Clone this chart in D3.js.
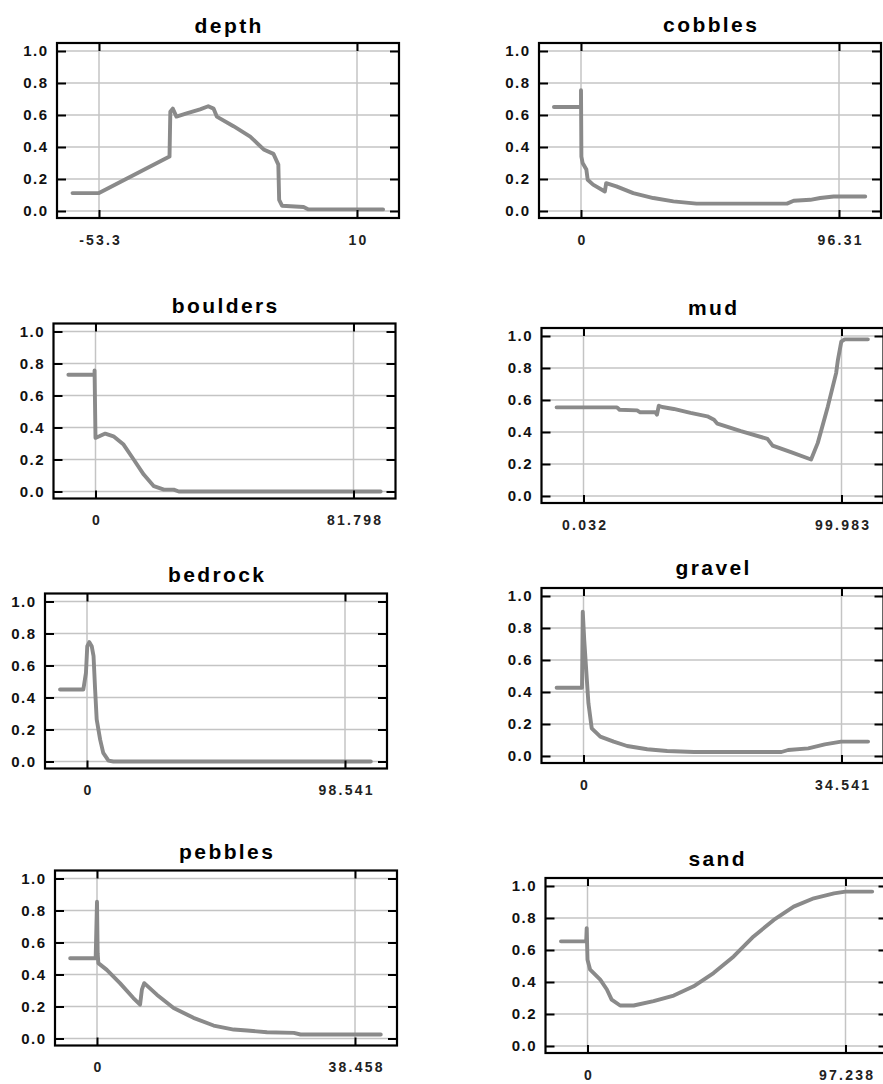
<!DOCTYPE html>
<html>
<head>
<meta charset="utf-8">
<script src="https://cdn.jsdelivr.net/npm/d3@7"></script>
<style>
  html, body { margin: 0; padding: 0; background: #fff; }
  svg { display: block; }
</style>
</head>
<body>
<svg id="chart" width="883" height="1084"></svg>
<script>
// ---------------- data ----------------
const titles = ["depth", "cobbles", "boulders", "mud", "bedrock", "gravel", "pebbles", "sand"];

const xTickValues = [
  [-53.3, 10], [0, 96.31], [0, 81.798], [0.032, 99.983],
  [0, 98.541], [0, 34.541], [0, 38.458], [0, 97.238]
];
const xTickLabels = [
  ["-53.3", "10"], ["0", "96.31"], ["0", "81.798"], ["0.032", "99.983"],
  ["0", "98.541"], ["0", "34.541"], ["0", "38.458"], ["0", "97.238"]
];
const yTickValues = [0, 0.2, 0.4, 0.6, 0.8, 1.0];
const yTickLabels = ["0.0", "0.2", "0.4", "0.6", "0.8", "1.0"];

const depth = [[-59.8,0.112],[-53.3,0.112],[-36.0,0.34],[-35.8,0.62],[-35.2,0.64],[-34.3,0.59],[-31.8,0.61],
  [-28.5,0.635],[-26.5,0.655],[-25.2,0.64],[-24.4,0.59],[-20.3,0.53],[-16.2,0.465],[-12.9,0.385],[-10.5,0.357],
  [-9.3,0.29],[-9.1,0.07],[-8.4,0.033],[-3.1,0.025],[-1.9,0.01],[16.4,0.01]];
const cobbles = [[-10.1,0.65],[0,0.65],[0,0.755],[0.15,0.34],[0.6,0.30],[2.0,0.26],[2.5,0.195],[4.5,0.165],
  [8.9,0.122],[9.4,0.174],[13.2,0.154],[19.5,0.112],[27.0,0.081],[34.5,0.06],[43.1,0.046],[76.9,0.046],
  [79.4,0.064],[85.6,0.07],[89.3,0.081],[94.3,0.091],[106.1,0.091]];
const boulders = [[-8.6,0.73],[-0.3,0.73],[-0.3,0.757],[0,0.335],[1.2,0.345],[3.1,0.362],[5.7,0.345],[8.9,0.293],
  [12.1,0.2],[15.3,0.106],[18.5,0.033],[21.7,0.012],[24.8,0.012],[26.4,0],[90.4,0]];
const mud = [[-10.4,0.554],[13.0,0.554],[14.0,0.539],[20.8,0.535],[22.0,0.523],[27.9,0.523],[28.5,0.508],
  [29.2,0.564],[30.5,0.556],[35.0,0.544],[41.5,0.519],[48.0,0.498],[50.6,0.477],[51.9,0.452],[61.0,0.405],
  [71.3,0.357],[73.3,0.315],[80.4,0.274],[88.2,0.228],[90.8,0.332],[94.7,0.56],[97.9,0.768],[98.6,0.851],
  [99.9,0.965],[101.2,0.979],[110.2,0.979]];
const bedrock = [[-10.3,0.45],[-1.4,0.45],[-0.4,0.554],[0.1,0.721],[0.9,0.746],[1.8,0.721],[2.5,0.658],
  [3.1,0.45],[3.7,0.263],[5.0,0.138],[6.2,0.054],[8.2,0.006],[10.1,0],[108.4,0]];
const gravel = [[-3.6,0.427],[-0.2,0.427],[-0.1,0.902],[0.1,0.725],[0.45,0.475],[0.66,0.329],[1.1,0.173],
  [2.25,0.121],[4.04,0.09],[5.84,0.0625],[8.53,0.042],[11.2,0.031],[14.8,0.025],[26.5,0.025],[27.4,0.0375],
  [30.1,0.048],[32.3,0.073],[34.5,0.09],[38.1,0.09]];
const pebbles = [[-4.0,0.502],[-0.2,0.502],[0,0.855],[0.1,0.533],[0.2,0.471],[1.46,0.429],[3.42,0.346],
  [5.42,0.253],[6.42,0.212],[6.69,0.305],[7.04,0.346],[8.92,0.274],[11.42,0.191],[14.38,0.129],[17.38,0.081],
  [20.38,0.056],[22.38,0.05],[25.34,0.039],[29.34,0.035],[30.34,0.025],[42.3,0.025]];
const sand = [[-10.0,0.654],[-0.5,0.654],[-0.3,0.737],[0,0.539],[1.0,0.477],[4.8,0.415],[7.3,0.353],
  [9.1,0.29],[12.3,0.253],[17.4,0.253],[24.9,0.28],[32.5,0.315],[40.0,0.373],[47.5,0.456],[55.1,0.56],
  [62.6,0.685],[70.2,0.788],[77.7,0.871],[85.3,0.923],[92.9,0.954],[97.2,0.965],[107.3,0.965]];

const seriesList = [depth, cobbles, boulders, mud, bedrock, gravel, pebbles, sand];

// ---------------- layout ----------------
const frames = [
  {x: 57,  y: 43,  ty: 10},
  {x: 539, y: 43,  ty: 11},
  {x: 53.5, y: 323.5, ty: 11},
  {x: 541.5, y: 328, ty: 13},
  {x: 45,  y: 593.5, ty: 12},
  {x: 541.5, y: 588, ty: 13},
  {x: 55,  y: 870.5, ty: 12},
  {x: 545.5, y: 878, ty: 12}
];
const W = 342, H = 175;
const FONT = "'Liberation Sans', Arial, Helvetica, sans-serif";

const svg = d3.select("#chart");

seriesList.forEach((data, i) => {
  const f = frames[i];
  const g = svg.append("g").attr("transform", `translate(${f.x},${f.y})`);

  const x = d3.scaleLinear().domain(xTickValues[i]).range([42, W - 42]);
  const y = d3.scaleLinear().domain([0, 1]).range([H - 7, 8]);

  // grid
  g.append("g").selectAll("line").data(yTickValues).join("line")
    .attr("x1", 0).attr("x2", W)
    .attr("y1", d => y(d)).attr("y2", d => y(d))
    .attr("stroke", "#c4c4c4").attr("stroke-width", 1.5);
  g.append("g").selectAll("line").data(xTickValues[i]).join("line")
    .attr("y1", 0).attr("y2", H)
    .attr("x1", d => x(d)).attr("x2", d => x(d))
    .attr("stroke", "#c4c4c4").attr("stroke-width", 1.5);

  // curve
  const line = d3.line().x(d => x(d[0])).y(d => y(d[1]));
  g.append("path").datum(data)
    .attr("d", line)
    .attr("fill", "none")
    .attr("stroke", "#8a8a8a")
    .attr("stroke-width", 3.9)
    .attr("stroke-linejoin", "round")
    .attr("stroke-linecap", "round");

  // axes
  const yl = g.append("g").call(
    d3.axisLeft(y).tickValues(yTickValues).tickSize(-9).tickPadding(10)
      .tickFormat((d, k) => yTickLabels[k]));
  const yr = g.append("g").attr("transform", `translate(${W},0)`).call(
    d3.axisRight(y).tickValues(yTickValues).tickSize(-9).tickFormat(""));
  const xb = g.append("g").attr("transform", `translate(0,${H})`).call(
    d3.axisBottom(x).tickValues(xTickValues[i]).tickSize(-8).tickPadding(17)
      .tickFormat((d, k) => xTickLabels[i][k]));
  const xt = g.append("g").call(
    d3.axisTop(x).tickValues(xTickValues[i]).tickSize(-8).tickFormat(""));

  [yl, yr, xb, xt].forEach(a => {
    a.select(".domain").remove();
    a.selectAll(".tick line").attr("stroke", "#000").attr("stroke-width", 2);
  });
  yl.selectAll("text")
    .attr("font-family", FONT)
    .attr("font-size", 15).attr("font-weight", "bold")
    .attr("letter-spacing", "1.5px").attr("dx", "1.5px")
    .attr("fill", "#111");
  xb.selectAll("text")
    .attr("font-family", FONT)
    .attr("font-size", 14).attr("font-weight", "bold")
    .attr("letter-spacing", "2.2px").attr("dx", "1.1px")
    .attr("fill", "#222");

  // frame
  g.append("rect").attr("x", 0).attr("y", 0).attr("width", W).attr("height", H)
    .attr("fill", "none").attr("stroke", "#000").attr("stroke-width", 2.2);

  // title
  g.append("text")
    .attr("x", W / 2 + 1.2).attr("y", -f.ty)
    .attr("text-anchor", "middle")
    .attr("font-family", FONT)
    .attr("font-size", 21).attr("font-weight", "bold")
    .attr("letter-spacing", "2.4px")
    .attr("fill", "#000")
    .text(titles[i]);
});
</script>
</body>
</html>
